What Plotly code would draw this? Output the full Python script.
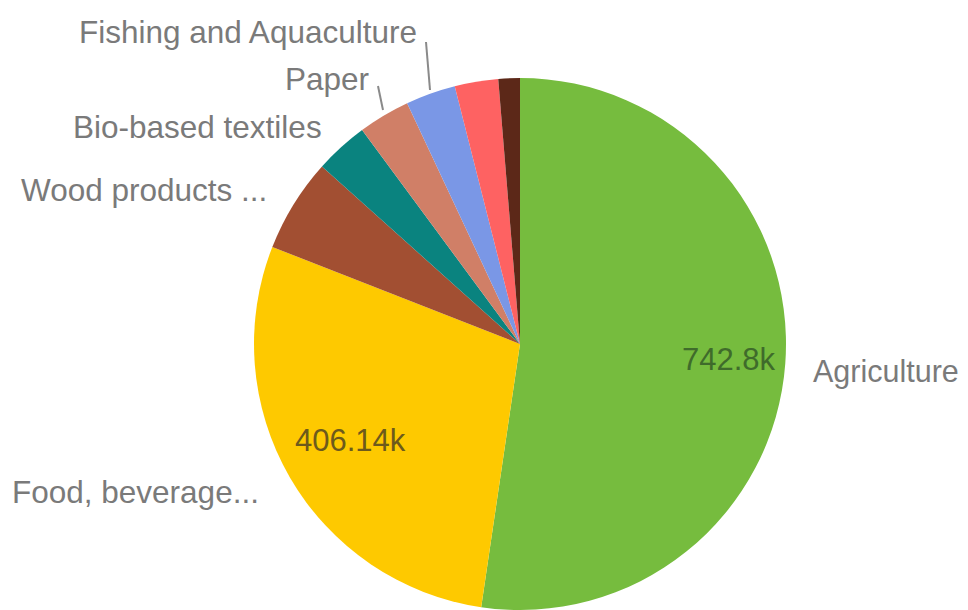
import plotly.graph_objects as go

# page is rendered with an 8px body margin; work in page pixels and convert
OFF = 8
W, H = 968 - 2 * OFF, 610 - OFF

# ---- data ----
sectors = ["Agriculture", "Food, beverage...", "Wood products ...", "Bio-based textiles",
           "Paper", "Fishing and Aquaculture", "Other 1", "Other 2"]
values_k = [742.8, 406.14, 80.8, 46.1, 44.6, 43.0, 37.5, 18.5]
shown_labels = ["Agriculture", "Food, beverage...", "Wood products ...", "Bio-based textiles",
                "Paper", "Fishing and Aquaculture", "", ""]
value_labels = ["742.8k", "406.14k", "", "", "", "", "", ""]

# ---- styles ----
colors = ["#76bc3e", "#fec900", "#a24f32", "#0a837f", "#d07f67", "#7a97e6", "#fe6262", "#5c2818"]
value_text_colors = ["#3f6b2b", "#6d5a1c"]
FONT = "Liberation Sans, Arial, sans-serif"
LABEL_COLOR = "#7a7a7a"


def px(x, y):
    """page pixel -> paper coords"""
    return (x - OFF) / W, 1 - (y - OFF) / H


R = 267
CX, CY = 520, 345
dx0, _ = px(CX - R, 0)
dx1, _ = px(CX + R, 0)
_, dy1 = px(0, CY - R)
_, dy0 = px(0, CY + R)

fig = go.Figure(go.Pie(
    labels=sectors,
    values=values_k,
    sort=False,
    direction="clockwise",
    rotation=0,
    marker=dict(colors=colors, line=dict(width=0)),
    textinfo="none",
    hoverinfo="label+value",
    showlegend=False,
    domain=dict(x=[dx0, dx1], y=[max(dy0, 0), dy1]),
))

# label placements (page pixel anchors, font size), layout only
label_pos = [
    (811, 371, "left", 30.5),
    (261, 492, "right", 31.5),
    (269, 190, "right", 31.5),
    (324, 127, "right", 31.5),
    (371, 79, "right", 31.5),
    (419, 32, "right", 31.5),
]
value_pos = [(729, 359), (350, 440)]

annotations = []
for (x, y, anchor, fs), text in zip(label_pos, shown_labels):
    ax, ay = px(x, y)
    annotations.append(dict(x=ax, y=ay, xref="paper", yref="paper", text=text,
                            showarrow=False, xanchor=anchor, yanchor="middle",
                            font=dict(family=FONT, size=fs, color=LABEL_COLOR)))
for (x, y), text, c in zip(value_pos, value_labels[:2], value_text_colors):
    ax, ay = px(x, y)
    annotations.append(dict(x=ax, y=ay, xref="paper", yref="paper", text=text,
                            showarrow=False, xanchor="center", yanchor="middle",
                            font=dict(family=FONT, size=31, color=c)))

# leader lines for Paper and Fishing labels
leaders = [((378, 86), (383, 110)), ((426, 42), (430, 90))]
shapes = []
for (x0, y0), (x1, y1) in leaders:
    a0, b0 = px(x0, y0)
    a1, b1 = px(x1, y1)
    shapes.append(dict(type="line", xref="paper", yref="paper", x0=a0, y0=b0, x1=a1, y1=b1,
                       line=dict(color="#8a8a8a", width=2)))

fig.update_layout(
    width=W, height=H,
    margin=dict(l=0, r=0, t=0, b=0),
    paper_bgcolor="white", plot_bgcolor="white",
    annotations=annotations, shapes=shapes,
)

fig.write_html("out.html")
